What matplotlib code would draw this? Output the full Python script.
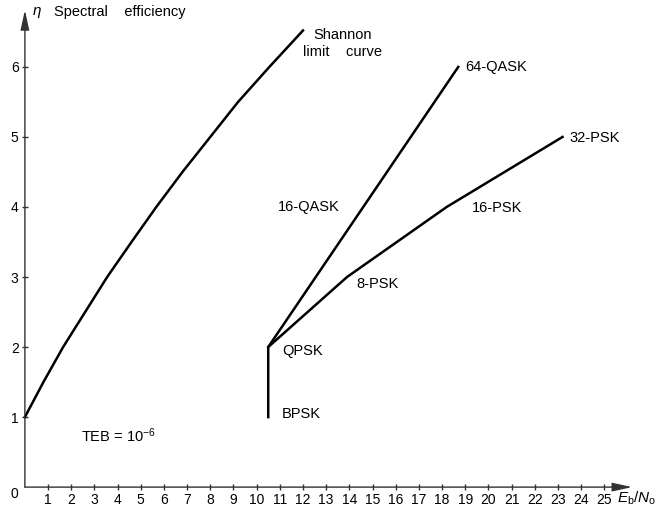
import matplotlib.pyplot as plt

plt.rcParams['font.family'] = ['Liberation Sans', 'DejaVu Sans']
plt.rcParams['mathtext.fontset'] = 'custom'
plt.rcParams['mathtext.rm'] = 'Liberation Sans'
plt.rcParams['mathtext.it'] = 'Liberation Sans:italic'

# Shannon limit curve (Eb/No in dB, spectral efficiency)
shannon_x = [0.0, 0.8, 1.65, 2.6, 3.55, 4.6, 5.67, 6.8, 8.0, 9.2, 10.55, 12.0]
shannon_y = [1.0, 1.5, 2.0, 2.5, 3.0, 3.5, 4.0, 4.5, 5.0, 5.5, 6.0, 6.52]

# BPSK -> QPSK -> 16-QASK -> 64-QASK
qask_x = [10.5, 10.5, 14.6, 18.7]
qask_y = [1.0, 2.0, 4.0, 6.0]

# QPSK -> 8-PSK -> 16-PSK -> 32-PSK
psk_x = [10.5, 13.9, 18.2, 23.2]
psk_y = [2.0, 3.0, 4.0, 5.0]

xticks = list(range(1, 26))
yticks = [1, 2, 3, 4, 5, 6]

fig = plt.figure(figsize=(6.55, 5.09), dpi=100)
ax = fig.add_axes([0.038, 0.043, 0.927, 0.937])
ax.set_xlim(0, 26.2)
ax.set_ylim(0, 6.81)
for s in ax.spines.values():
    s.set_visible(False)

ax.plot(shannon_x, shannon_y, color='black', lw=1.8, clip_on=False,
        solid_joinstyle='round')
ax.plot(qask_x, qask_y, color='black', lw=1.8)
ax.plot(psk_x, psk_y, color='black', lw=1.8)

# axes with arrows
arrow = dict(arrowstyle='-|>,head_length=1.0,head_width=0.22', color='#333333',
             lw=1.0, mutation_scale=12, shrinkA=0, shrinkB=0)
ax.annotate('', xy=(26.2, 0), xytext=(0, 0), annotation_clip=False, arrowprops=arrow)
ax.annotate('', xy=(0, 6.81), xytext=(0, 0), annotation_clip=False, arrowprops=arrow)

ax.set_xticks(xticks)
ax.set_yticks(yticks)
ax.tick_params(axis='both', direction='inout', length=5, width=1,
               color='#333333', labelsize=10, pad=2)
ax.text(-0.45, -0.1, '0', fontsize=10, ha='center', va='center')
ax.text(25.55, -0.16, r'$E_\mathrm{b}/N_\mathrm{o}$', fontsize=11,
        ha='left', va='center')

ax.text(0.5, 6.77, r'$\eta$', fontsize=11, ha='center', va='center')
ax.text(1.25, 6.78, 'Spectral    efficiency', fontsize=10.5, ha='left', va='center')

labels = [
    (12.45, 6.45, 'Shannon'),
    (12.0, 6.21, 'limit    curve'),
    (19.0, 6.0, '64-QASK'),
    (23.5, 4.99, '32-PSK'),
    (10.9, 4.0, '16-QASK'),
    (19.3, 3.98, '16-PSK'),
    (14.3, 2.9, '8-PSK'),
    (11.1, 1.94, 'QPSK'),
    (11.1, 1.04, 'BPSK'),
]
for x, y, t in labels:
    ax.text(x, y, t, fontsize=10.5, ha='left', va='center')

ax.text(2.4, 0.74, r'TEB = 10$^{-6}$', fontsize=10.5, ha='left', va='center')

fig.savefig('out.png', dpi=100)
